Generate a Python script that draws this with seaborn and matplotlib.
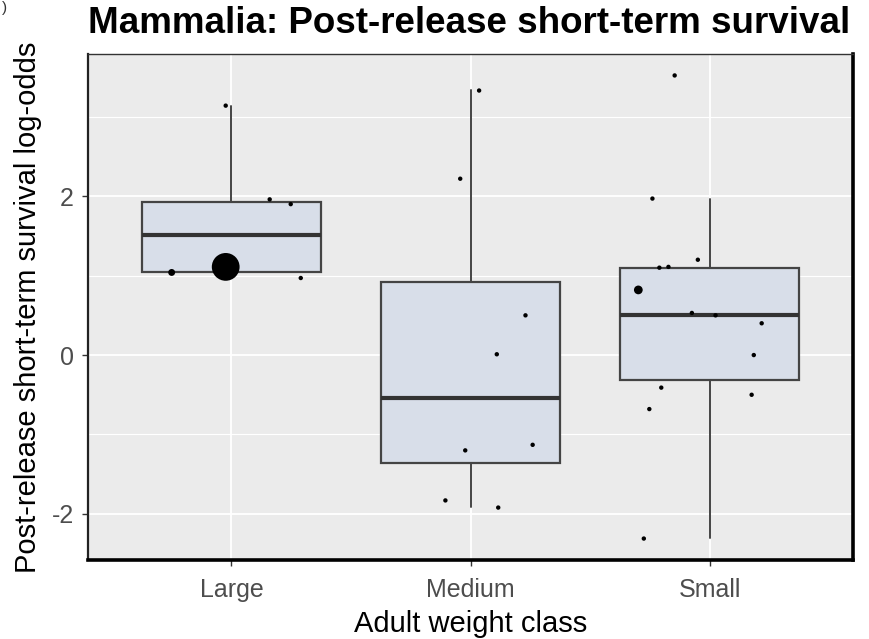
import numpy as np
import pandas as pd
import matplotlib
matplotlib.use("Agg")
import matplotlib.pyplot as plt
import seaborn as sns

# ---- data ----
categories = ["Large", "Medium", "Small"]

# box statistics (log-odds)
box_whislo = [1.05, -1.91, -2.30]
box_q1 = [1.05, -1.36, -0.31]
box_med = [1.51, -0.54, 0.51]
box_q3 = [1.93, 0.92, 1.10]
box_whishi = [3.14, 3.34, 1.96]

# jittered observations
large_vals = [3.14, 1.96, 1.90, 1.04, 1.11, 0.97]
large_jit = [-0.024, 0.16, 0.248, -0.25, -0.024, 0.29]
large_n = [1, 1, 1, 4, 80, 1]

medium_vals = [3.33, 2.22, 0.50, 0.01, -1.20, -1.13, -1.83, -1.92]
medium_jit = [0.036, -0.043, 0.23, 0.11, -0.022, 0.26, -0.105, 0.116]
medium_n = [1, 1, 1, 1, 1, 1, 1, 1]

small_vals = [3.52, 1.97, 1.20, 1.10, 1.11, 0.82, 0.53, 0.50, 0.40, 0.00,
              -0.41, -0.50, -0.68, -2.31]
small_jit = [-0.146, -0.239, -0.049, -0.21, -0.172, -0.298, -0.074, 0.025,
             0.218, 0.185, -0.202, 0.176, -0.252, -0.275]
small_n = [1, 1, 1, 1, 1, 7, 1, 1, 1, 1, 1, 1, 1, 1]

y_ticks = [-2, 0, 2]
y_minor = [-1, 1, 3]

title = "Mammalia: Post-release short-term survival"
xlabel = "Adult weight class"
ylabel = "Post-release short-term survival log-odds"

# ---- build table ----
rows = []
for ci, (vals, jit, ns) in enumerate([(large_vals, large_jit, large_n),
                                       (medium_vals, medium_jit, medium_n),
                                       (small_vals, small_jit, small_n)]):
    for v, j, n in zip(vals, jit, ns):
        rows.append({"cat": categories[ci], "xpos": ci + j, "value": v, "n": n})
df = pd.DataFrame(rows)

sns.set_theme(style="darkgrid")
plt.rcParams["font.family"] = ["Liberation Sans", "DejaVu Sans"]
plt.rcParams["axes.unicode_minus"] = False

fig = plt.figure(figsize=(8.69, 6.39), dpi=100)
W, H = 869, 639
ax = fig.add_axes([88 / W, (H - 560) / H, (853 - 88) / W, (560 - 54) / H])
ax.set_facecolor("#EBEBEB")

# grid
ax.set_xlim(-0.6, 2.6)
ax.set_ylim(-2.58, 3.79)
ax.set_yticks(y_ticks)
ax.set_yticklabels([str(t) for t in y_ticks])
ax.set_yticks(y_minor, minor=True)
ax.set_xticks(range(len(categories)))
ax.set_xticklabels(categories)
ax.grid(False)
for yv in y_minor:
    ax.axhline(yv, color="white", lw=0.8, zorder=0.5)
for yv in y_ticks:
    ax.axhline(yv, color="white", lw=1.3, zorder=0.5)
for xv in range(len(categories)):
    ax.axvline(xv, color="white", lw=1.3, zorder=0.5)

# boxes
stats = []
for i in range(len(categories)):
    stats.append({"whislo": box_whislo[i], "q1": box_q1[i], "med": box_med[i],
                  "q3": box_q3[i], "whishi": box_whishi[i], "fliers": []})
ax.bxp(stats, positions=range(len(categories)), widths=0.75, patch_artist=True,
       showcaps=False, showfliers=False,
       boxprops=dict(facecolor="#D8DEE9", edgecolor="#444444", linewidth=1.6),
       medianprops=dict(color="#333333", linewidth=3.0),
       whiskerprops=dict(color="#444444", linewidth=1.4), manage_ticks=False)

# points
sns.scatterplot(data=df, x="xpos", y="value", size="n", sizes=(10, 400),
                size_norm=(1, 80), color="black", edgecolor="none",
                linewidth=0, legend=False, ax=ax, zorder=5)

ax.set_xlim(-0.6, 2.6)
ax.set_ylim(-2.58, 3.79)

# spines
ax.spines["top"].set_color("#333333")
ax.spines["top"].set_linewidth(1.0)
ax.spines["left"].set_color("#222222")
ax.spines["left"].set_linewidth(1.6)
ax.spines["right"].set_color("black")
ax.spines["right"].set_linewidth(2.6)
ax.spines["bottom"].set_color("black")
ax.spines["bottom"].set_linewidth(2.6)
for s in ax.spines.values():
    s.set_visible(True)
    s.set_zorder(10)

ax.tick_params(axis="both", which="major", direction="out", length=4, width=1,
               color="#333333", labelcolor="#4D4D4D", labelsize=18,
               left=True, bottom=True)
ax.tick_params(axis="x", which="major", pad=9)
ax.tick_params(axis="y", which="major", pad=6)
ax.tick_params(axis="both", which="minor", length=0)

ax.set_xlabel(xlabel, fontsize=21, color="black", labelpad=6)
ax.set_ylabel(ylabel, fontsize=21, color="black", labelpad=7)
ax.set_title(title, fontsize=26.5, fontweight="bold", loc="left", pad=15,
             x=0.0, color="black")

fig.text(0.002, 0.998, ")", fontsize=11, ha="left", va="top", color="#333333")

fig.savefig("out.png", dpi=100)
